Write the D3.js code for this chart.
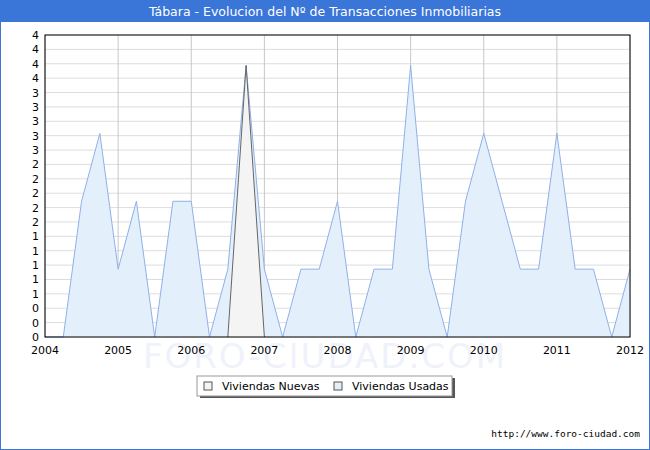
<!DOCTYPE html>
<html><head><meta charset="utf-8">
<script src="https://cdn.jsdelivr.net/npm/d3@7"></script>
<style>body{margin:0;background:#fff}</style></head>
<body><script>
const usadas=[0,0,2,3,1,2,0,2,2,0,1,4,1,0,1,1,2,0,1,1,4,1,0,2,3,2,1,1,3,1,1,0,1];
const nuevas=[0,0,0,0,0,0,0,0,0,0,0,4,0,0,0,0,0,0,0,0,0,0,0,0,0,0,0,0,0,0,0,0,0];
const yearTicks=[2004,2005,2006,2007,2008,2009,2010,2011,2012];
const yLabels=["0","0","0","1","1","1","1","1","2","2","2","2","2","3","3","3","3","3","4","4","4","4"];
const W=650,H=450;
const svg=d3.select("body").append("svg").attr("width",W).attr("height",H).style("font-family","DejaVu Sans, Verdana, sans-serif");
svg.append("rect").attr("x",0.5).attr("y",0.5).attr("width",W-1).attr("height",H-1).attr("fill","#fff").attr("stroke","#3a75d8");
svg.append("rect").attr("x",0).attr("y",0).attr("width",W).attr("height",22).attr("fill","#3a75d8");
svg.append("text").attr("x",W/2).attr("y",16).attr("text-anchor","middle").attr("fill","#fff").attr("font-size",12.5).text("Tábara - Evolucion del Nº de Transacciones Inmobiliarias");
svg.append("text").attr("x",325).attr("y",368).attr("text-anchor","middle").attr("font-size",34).attr("fill","#f0f2fb").attr("letter-spacing",2).text("FORO-CIUDAD.COM");
const L=45,R=630,T=35,B=337;
const x=d3.scaleLinear().domain([2004,2012]).range([L,R]);
const ymax=4.45;
const y=d3.scaleLinear().domain([0,ymax]).range([B,T]);
const g=svg.append("g");
yLabels.forEach((lb,i)=>{const v=i*ymax/21;
 g.append("line").attr("x1",L).attr("x2",R).attr("y1",y(v)).attr("y2",y(v)).attr("stroke","#ddd");
 g.append("text").attr("x",L-6).attr("y",y(v)+4).attr("text-anchor","end").attr("font-size",11).text(lb);});
yearTicks.forEach(t=>{g.append("line").attr("x1",x(t)).attr("x2",x(t)).attr("y1",T).attr("y2",B).attr("stroke","#c8c8c8");
 g.append("text").attr("x",x(t)).attr("y",B+17).attr("text-anchor","middle").attr("font-size",11).text(t);});
const xq=i=>x(2004+i/4);
const area=d3.area().x((d,i)=>xq(i)).y0(y(0)).y1(d=>y(d));
const line=d3.line().x((d,i)=>xq(i)).y(d=>y(d));
svg.append("path").attr("d",area(usadas)).attr("fill","#e3f0fc");
svg.append("path").attr("d",line(usadas)).attr("fill","none").attr("stroke","#8fb0e8").attr("stroke-width",1);
const nIdx=nuevas.map((v,i)=>[i,v]).filter(([i])=>i>=10&&i<=12);
const ax=d3.area().x(d=>xq(d[0])).y0(y(0)).y1(d=>y(d[1]));
svg.append("path").attr("d",ax(nIdx)).attr("fill","#f4f4f4");
svg.append("path").attr("d",d3.line().x(d=>xq(d[0])).y(d=>y(d[1]))(nIdx)).attr("fill","none").attr("stroke","#666");
svg.append("rect").attr("x",L).attr("y",T).attr("width",R-L).attr("height",B-T).attr("fill","none").attr("stroke","#000");
svg.append("rect").attr("x",200).attr("y",378).attr("width",255).attr("height",20).attr("fill","#555");
svg.append("rect").attr("x",197).attr("y",376).attr("width",255).attr("height",20).attr("fill","#fff").attr("stroke","#999");
svg.append("rect").attr("x",204).attr("y",382).attr("width",8).attr("height",8).attr("fill","#f4f4f4").attr("stroke","#555");
svg.append("text").attr("x",222).attr("y",390).attr("font-size",11).text("Viviendas Nuevas");
svg.append("rect").attr("x",334).attr("y",382).attr("width",8).attr("height",8).attr("fill","#e3f0fc").attr("stroke","#555");
svg.append("text").attr("x",352).attr("y",390).attr("font-size",11).text("Viviendas Usadas");
svg.append("text").attr("x",640).attr("y",437).attr("text-anchor","end").attr("font-size",9.5).attr("font-family","DejaVu Sans Mono, monospace").text("http://www.foro-ciudad.com");
</script></body></html>
